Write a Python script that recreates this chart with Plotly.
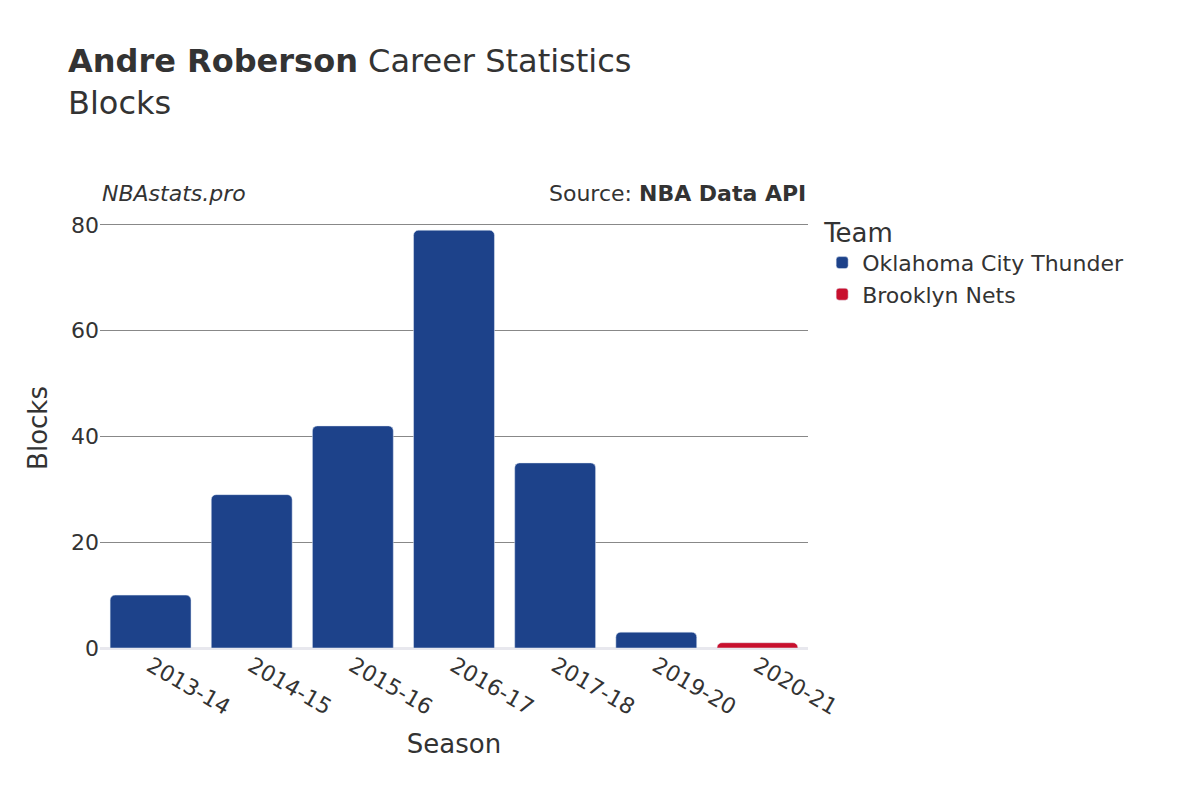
import plotly.graph_objects as go

# Season totals
okc_seasons = ["2013-14", "2014-15", "2015-16", "2016-17", "2017-18", "2019-20"]
okc_blocks = [10, 29, 42, 79, 35, 3]
bkn_seasons = ["2020-21"]
bkn_blocks = [1]

fig = go.Figure()
fig.add_trace(go.Bar(x=okc_seasons, y=okc_blocks, name="Oklahoma City Thunder",
                     marker_color="#1D428A"))
fig.add_trace(go.Bar(x=bkn_seasons, y=bkn_blocks, name="Brooklyn Nets",
                     marker_color="#C8102E"))

fig.update_layout(
    width=1200, height=800,
    font=dict(family="DejaVu Sans", color="#333", size=20),
    plot_bgcolor="white", paper_bgcolor="white",
    barmode="relative", bargap=0.2, barcornerradius=5,
    margin=dict(l=92, r=400, t=200, b=160),
    title=dict(text="<b>Andre Roberson</b> Career Statistics<br>Blocks",
               x=0.05, xanchor="left", y=0.92, yanchor="middle",
               font=dict(size=32, color="#333")),
    legend=dict(title=dict(text="Team", font=dict(size=26)), x=1.02, y=1.0,
                yanchor="top", font=dict(size=22)),
    xaxis=dict(title=dict(text="Season", font=dict(size=26)), tickangle=30,
               categoryorder="array",
               categoryarray=okc_seasons + bkn_seasons,
               tickfont=dict(size=22)),
    yaxis=dict(title=dict(text="Blocks", font=dict(size=26)), range=[0, 83.2],
               gridcolor="#888", tickvals=[0, 20, 40, 60, 80],
               zeroline=True, zerolinecolor="#e8e8ee", zerolinewidth=3,
               tickfont=dict(size=22)),
    annotations=[
        dict(text="<i>NBAstats.pro</i>", x=0, y=1.0, xref="paper", yref="paper",
             xanchor="left", yanchor="bottom", showarrow=False, font=dict(size=22)),
        dict(text="Source: <b>NBA Data API</b>", x=1, y=1.0, xref="paper",
             yref="paper", xanchor="right", yanchor="bottom", showarrow=False,
             font=dict(size=22)),
    ],
)

fig.write_html("out.html")
